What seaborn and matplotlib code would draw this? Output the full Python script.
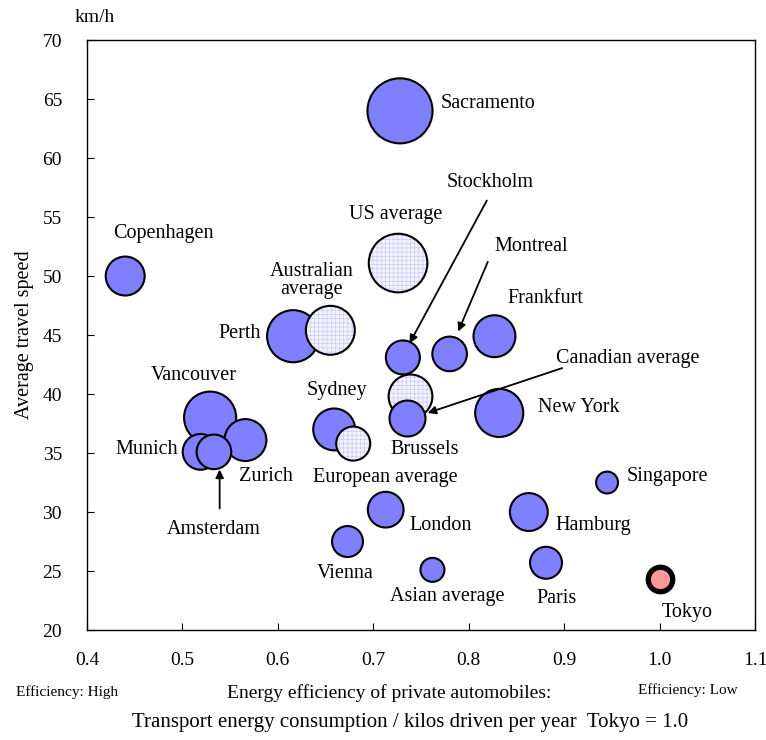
import matplotlib
matplotlib.use("Agg")
import matplotlib.pyplot as plt
import numpy as np
import pandas as pd
import seaborn as sns

# ── data ──────────────────────────────────────────────────────────────────────
cities = ["Copenhagen", "Sacramento", "Perth", "Stockholm", "Montreal", "Frankfurt",
          "New York", "Sydney", "Vancouver", "Zurich", "Munich", "Amsterdam",
          "Singapore", "London", "Hamburg", "Vienna", "Paris", "Asian average",
          "US average", "Australian average", "Canadian average", "European average",
          "Brussels", "Tokyo"]
efficiency = [0.44, 0.728, 0.616, 0.731, 0.780, 0.827,
              0.832, 0.659, 0.529, 0.566, 0.519, 0.533,
              0.945, 0.713, 0.863, 0.673, 0.881, 0.762,
              0.726, 0.655, 0.739, 0.679,
              0.735, 1.0]
speed = [50.0, 64.0, 44.9, 43.1, 43.4, 44.9,
         38.4, 37.0, 38.0, 36.1, 35.1, 35.1,
         32.5, 30.2, 30.0, 27.5, 25.7, 25.1,
         51.1, 45.4, 39.8, 35.8,
         38.0, 24.3]
bubble = [380, 1060, 680, 290, 300, 440,
          580, 440, 680, 440, 320, 300,
          120, 320, 360, 240, 256, 144,
          860, 600, 480, 290,
          324, 150]
kind = ["city"] * 18 + ["average"] * 4 + ["front", "tokyo"]

df = pd.DataFrame({"city": cities, "x": efficiency, "y": speed,
                   "bubble": bubble, "kind": kind})

# ── layout (label positions, arrows) ──────────────────────────────────────────
labels = {
    "Sacramento": (0.771, 64.6, "left"),
    "Copenhagen": (0.480, 53.6, "center"),
    "US average": (0.724, 55.2, "center"),
    "Australian\naverage": (0.635, 49.6, "center"),
    "Perth": (0.582, 45.1, "right"),
    "Frankfurt": (0.880, 48.1, "center"),
    "New York": (0.915, 38.9, "center"),
    "Brussels": (0.754, 35.3, "center"),
    "Sydney": (0.662, 40.3, "center"),
    "European average": (0.713, 32.9, "center"),
    "Vancouver": (0.512, 41.6, "center"),
    "Munich": (0.463, 35.3, "center"),
    "Zurich": (0.587, 33.0, "center"),
    "Singapore": (1.008, 33.0, "center"),
    "London": (0.771, 28.9, "center"),
    "Hamburg": (0.930, 28.9, "center"),
    "Vienna": (0.670, 24.8, "center"),
    "Paris": (0.892, 22.7, "center"),
    "Asian average": (0.778, 22.8, "center"),
    "Tokyo": (1.029, 21.5, "center"),
}
arrows = {
    "Stockholm": ((0.822, 57.9), (0.819, 56.4), (0.738, 44.3)),
    "Montreal": ((0.866, 52.5), (0.820, 51.2), (0.789, 45.3)),
    "Canadian average": ((0.967, 43.0), (0.898, 42.2), (0.757, 38.4)),
    "Amsterdam": ((0.533, 28.5), (0.539, 30.3), (0.539, 33.6)),
}

sns.set_style("ticks")
plt.rcParams["font.family"] = ["Liberation Serif", "DejaVu Serif"]
plt.rcParams["text.color"] = "black"
plt.rcParams["hatch.linewidth"] = 0.4

fig = plt.figure(figsize=(7.66, 7.40), dpi=100)
ax = fig.add_axes([0.1136, 0.1486, 0.872, 0.7973])

size_kw = dict(size="bubble", sizes=(0, 2.07 * 1200), size_norm=(0, 1200), legend=False)
styles = {
    "city": dict(color="#8080ff", edgecolor="black", linewidth=1.5),
    "front": dict(color="#8080ff", edgecolor="black", linewidth=1.5),
    "tokyo": dict(color="#ff9999", edgecolor="black", linewidth=3.8),
}
sns.scatterplot(data=df[df["kind"] == "city"], x="x", y="y", ax=ax, zorder=3,
                **size_kw, **styles["city"])
# averages: light dotted fill, then black outline
avg = df[df["kind"] == "average"]
sns.scatterplot(data=avg, x="x", y="y", ax=ax, zorder=3, color="#f2f2fd",
                edgecolor="#c4c4f6", linewidth=0, **size_kw)
ax.collections[-1].set_hatch("++++")
sns.scatterplot(data=avg, x="x", y="y", ax=ax, zorder=3, facecolor="none",
                edgecolor="black", linewidth=1.5, **size_kw)
for k in ["front", "tokyo"]:
    sns.scatterplot(data=df[df["kind"] == k], x="x", y="y", ax=ax, zorder=3,
                    **size_kw, **styles[k])

for text, (tx, ty, ha) in labels.items():
    ax.text(tx, ty, text, ha=ha, va="center", fontsize=14.5, zorder=5,
            linespacing=0.95)
for text, (tpos, start, end) in arrows.items():
    ax.text(*tpos, text, ha="center", va="center", fontsize=14.5, zorder=5)
    ax.annotate("", xy=end, xytext=start, zorder=5,
                arrowprops=dict(arrowstyle="-|>", color="black", lw=1.3,
                                mutation_scale=12, shrinkA=0, shrinkB=0))

ax.set_xlim(0.4, 1.1)
ax.set_ylim(20, 70)
ax.set_xticks(np.arange(0.4, 1.11, 0.1))
ax.set_xticklabels([f"{v:.1f}" for v in np.arange(0.4, 1.11, 0.1)])
ax.set_yticks(range(20, 71, 5))
ax.tick_params(direction="in", length=5, labelsize=14, color="black", labelcolor="black")
ax.tick_params(axis="x", pad=16)
ax.tick_params(axis="y", pad=18)
for sp in ax.spines.values():
    sp.set_color("black")
    sp.set_linewidth(1.0)

ax.set_xlabel("")
ax.set_ylabel("Average travel speed", fontsize=14.5, labelpad=6, color="black")
fig.text(389 / 766, 1 - 693 / 740, "Energy efficiency of private automobiles:",
         fontsize=14, ha="center", va="center")
fig.text(410 / 766, 1 - 722 / 740,
         "Transport energy consumption / kilos driven per year  Tokyo = 1.0",
         fontsize=15, ha="center", va="center")
fig.text(95 / 766, 1 - 17 / 740, "km/h", fontsize=14, ha="center", va="center")
fig.text(67 / 766, 1 - 692 / 740, "Efficiency: High", fontsize=11, ha="center", va="center")
fig.text(688 / 766, 1 - 690 / 740, "Efficiency: Low", fontsize=11, ha="center", va="center")

fig.savefig("out.png", dpi=100)
